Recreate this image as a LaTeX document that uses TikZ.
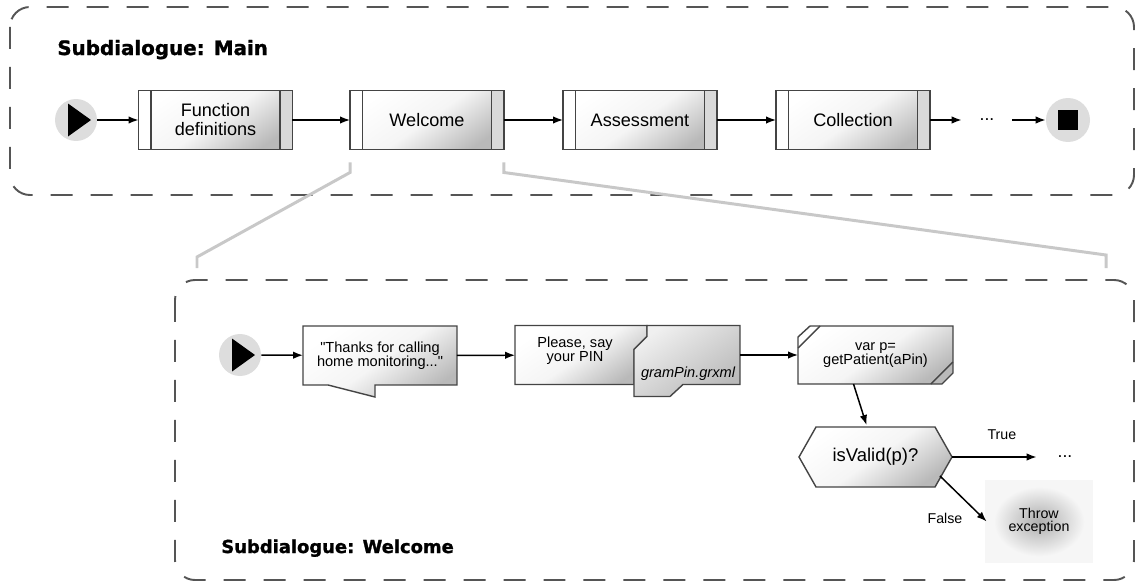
\documentclass[tikz,border=0pt]{standalone}
\usepackage{fontspec}
\setmainfont{Liberation Sans}[Ligatures=TeXOff]
\newfontfamily\titlefont{DejaVu Sans}[BoldFeatures={FakeBold=1.3}]
\usepackage{xcolor}
\usepackage{tikz}
\usetikzlibrary{calc}
\usetikzlibrary{arrows.meta,positioning}
\usetikzlibrary{backgrounds}

\definecolor{boxline}{HTML}{444444}
\definecolor{frameline}{HTML}{555555}
\definecolor{startfill}{HTML}{DDDDDD}
\definecolor{zoomgray}{HTML}{C8C8C8}
\colorlet{glowin}{gray!62}
\colorlet{glowmid}{gray!48}
\colorlet{glowout}{gray!7}
\pgfdeclareradialshading{glowshade}{\pgfpointorigin}{color(0bp)=(glowin); color(6bp)=(glowmid); color(21bp)=(glowout); color(50bp)=(glowout)}

\begin{document}
\begin{tikzpicture}[x=0.02cm,y=-0.02cm,
	frame/.style={draw=frameline,line width=1.1pt,dash pattern=on 0.44cm off 0.36cm,rounded corners=0.4cm},
	zoomline/.style={draw=zoomgray,line width=1.7pt},
	title/.style={font=\titlefont\bfseries\fontsize{11.3}{13}\selectfont,anchor=base west,inner sep=0},
	boxshade/.style={top color=white,bottom color=gray!55,middle color=gray!8,shading angle=35},
	shapeline/.style={draw=boxline,line width=0.8pt},
	proc/.style={shapeline,boxshade,outer sep=0,minimum width=3.08cm,minimum height=1.18cm,align=center,font=\fontsize{10.3}{10.8}\selectfont},
	startnode/.style={circle,fill=startfill,minimum size=0.84cm,inner sep=0},
	flow/.style={-{Latex[length=2mm,width=1.5mm]},line width=0.85pt},
	small/.style={align=center,font=\fontsize{8.3}{8}\selectfont},
	tag/.style={font=\fontsize{8.1}{9}\selectfont}]
		\useasboundingbox (0,0) rectangle (1137,585);
		\draw[frame] (10,7) rectangle (1134,195);
		\draw[frame] (175,280) rectangle (1134,580);
		\node[title] (maintitle) at (57,55) {Subdialogue: Main};
		\node[title,font=\titlefont\bfseries\fontsize{10.2}{12}\selectfont] (weltitle) at (221,553) {Subdialogue: Welcome};

		\node[startnode] (start) at (76,120) {};
		\fill (start.center) ++(-8,-16.5) -- ++(23,16.5) -- ++(-23,16.5) -- cycle;
		\node[proc] (fundef) at (215.5,120) {Function\\definitions};
		\node[proc] (welcome) at (427,120) {Welcome};
		\node[proc] (assess) at (640,120) {Assessment};
		\node[proc] (collect) at (853,120) {Collection};
		\foreach \b in {fundef,welcome,assess,collect}{
			\draw[shapeline,fill=white] (\b.north west) rectangle ++(12.5,59);
			\draw[shapeline,fill=gray!30] (\b.north east) rectangle ++(-12.5,59);
		}
		\node[inner sep=0,minimum width=1cm,minimum height=0.3cm] (more) at (987,120) {...};
		\node[startnode,minimum size=0.88cm] (stop) at (1068,120) {};
		\fill (stop.center) ++(-10,-10) rectangle ++(20,20);
		\draw[flow] (start) -- (fundef);
		\draw[flow] (fundef) -- (welcome);
		\draw[flow] (welcome) -- (assess);
		\draw[flow] (assess) -- (collect);
		\draw[flow] (collect) -- (more);
		\draw[flow] (more) -- (stop);

		\draw[zoomline] ($(welcome.south west)+(0,13)$) -- ++(0,10) -- (197,257) -- (197,268);
		\draw[zoomline] ($(welcome.south east)+(0,13)$) -- ++(0,10) -- (1106,255) -- (1106,268);

		\node[startnode] (start2) at (240,355) {};
		\fill (start2.center) ++(-8,-16.5) -- ++(23,16.5) -- ++(-23,16.5) -- cycle;
		\node[small,outer sep=0,minimum width=3.08cm,minimum height=1.18cm] (prompt) at (380,355.5) {"Thanks for calling\\home monitoring..."};
		\node[outer sep=0,minimum width=4.5cm,minimum height=1.18cm] (pin) at (627.5,355) {};
		\node[small] (pintxt) at (575,351) {Please, say\\your PIN};
		\node[small,font=\fontsize{8.3}{8}\selectfont\itshape] (gramtxt) at (688,374) {gramPin.grxml};
		\node[small,outer sep=0,minimum width=3.1cm,minimum height=1.16cm] (script) at (875.5,355) {var p=\\getPatient(aPin)};
		\node[outer sep=0,minimum width=3.06cm,minimum height=1.2cm,font=\fontsize{10.5}{11}\selectfont] (valid) at (875.5,457) {isValid(p)?};
		\node[inner sep=0,minimum width=1.12cm,minimum height=0.3cm] (more2) at (1065,457) {...};
		\node[shade,shading=glowshade,minimum width=2.16cm,minimum height=1.66cm,align=center,font=\fontsize{8.1}{7.6}\selectfont] (throw) at (1039,521.5) {Throw\\exception};
		\node[tag] (falsetag) at (945,518) {False};

		\begin{scope}[on background layer]
			\draw[shapeline,boxshade] (prompt.north west) -- (prompt.north east) -- (prompt.south east) -- ++(-82,0) -- ++(0,12) -- ++(-47,-12) -- (prompt.south west) -- cycle;
			\draw[shapeline,boxshade] (pin.north west) -- ++(132,0) -- ++(0,11) -- ++(-13,13) -- ++(0,35) -- (pin.south west) -- cycle;
			\draw[shapeline,top color=gray!12,bottom color=gray!55,shading angle=35] ($(pin.north west)+(132,0)$) -- (pin.north east) -- (pin.south east) -- ++(-57,0) -- ++(-13,12) -- ++(-36,0) -- ++(0,-47) -- ++(13,-13) -- cycle;
			\draw[shapeline,boxshade] ($(script.north west)+(12,0)$) -- (script.north east) -- ++(0,47) -- ++(-11,11) -- (script.south west) -- ++(0,-47) -- cycle;
			\draw[shapeline] ($(script.north west)+(0,22)$) -- ++(22,-22);
			\draw[shapeline] ($(script.south east)+(0,-22)$) -- ++(-22,22);
			\draw[shapeline,boxshade] (valid.west) -- ++(17,-30) -- ++(119,0) -- ++(17,30) -- ++(-17,30) -- ++(-119,0) -- cycle;
		\end{scope}

		\draw[flow] (start2) -- (prompt);
		\draw[flow] (prompt) -- (pin);
		\draw[flow] (pin) -- (script);
		\draw[flow] ($(script.south)+(-22,0)$) -- ($(valid.north)+(-9,-2)$);
		\draw[flow] (valid) -- (more2) node[tag,pos=0.59,above=0.22cm] (truetag) {True};
		\draw[flow] ($(valid.south east)+(-12,-11)$) -- ($(throw.west)+(2,0)$);
	\end{tikzpicture}
\end{document}
